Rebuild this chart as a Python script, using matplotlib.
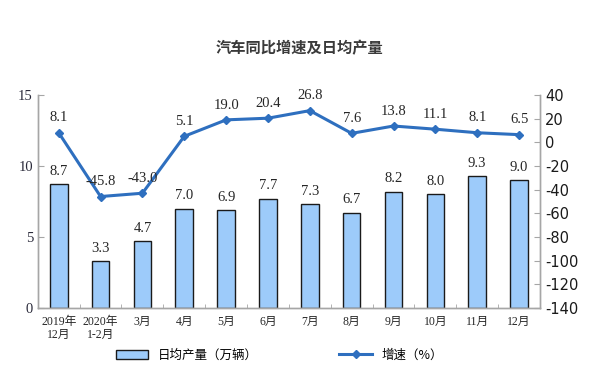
import matplotlib
matplotlib.use("Agg")
import matplotlib.pyplot as plt
import numpy as np

plt.rcParams["font.family"] = ["Liberation Serif", "Noto Sans CJK SC"]
plt.rcParams["axes.unicode_minus"] = False

MONTHS = ["2019年\n12月", "2020年\n1-2月", "3月", "4月", "5月", "6月",
          "7月", "8月", "9月", "10月", "11月", "12月"]
DAILY_OUTPUT = [8.7, 3.3, 4.7, 7.0, 6.9, 7.7, 7.3, 6.7, 8.2, 8.0, 9.3, 9.0]
GROWTH = [8.1, -45.8, -43.0, 5.1, 19.0, 20.4, 26.8, 7.6, 13.8, 11.1, 8.1, 6.5]

BAR_COLOR = "#9DCBFA"
LINE_COLOR = "#2E6FBF"
AXIS_COLOR = "#A6A6A6"
TEXT_COLOR = "#262626"

fig = plt.figure(figsize=(6, 3.77), dpi=100)
ax = fig.add_axes([0.063, 0.183, 0.837, 0.565])
ax2 = ax.twinx()

x = np.arange(len(MONTHS))
bars = ax.bar(x, DAILY_OUTPUT, width=0.42, color=BAR_COLOR,
              edgecolor="#1a1a1a", linewidth=1.0, label="日均产量（万辆）", zorder=2)
for xi, v in zip(x, DAILY_OUTPUT):
    ax.text(xi, v + 0.45, f"{v:.1f}", ha="center", va="bottom",
            fontsize=10.5, color=TEXT_COLOR)

ax.set_xlim(-0.5, len(MONTHS) - 0.5)
ax.set_ylim(0, 15)
ax.set_yticks([0, 5, 10, 15])
ax.set_xticks(x)
ax.set_xticklabels(MONTHS, fontsize=8.5, color=TEXT_COLOR, linespacing=1.1)
ax.set_xticks(np.arange(-0.5, len(MONTHS), 1), minor=True)
ax.tick_params(axis="x", which="major", length=0, pad=6)
ax.tick_params(axis="x", which="minor", direction="in", length=3, color=AXIS_COLOR)
ax.tick_params(axis="y", direction="in", length=4, color=AXIS_COLOR,
               labelsize=10.5, labelcolor="#2b2b3b")

ax2.plot(x, GROWTH, color=LINE_COLOR, linewidth=2.2, marker="D",
         markersize=4.5, label="增速（%）", zorder=3)
for xi, v in zip(x, GROWTH):
    ax2.text(xi, v + 7, f"{v:.1f}", ha="center", va="bottom",
             fontsize=10.5, color=TEXT_COLOR)
ax2.set_ylim(-140, 40)
ax2.set_yticks(np.arange(-140, 41, 20))
ax2.tick_params(axis="y", direction="in", length=4, color=AXIS_COLOR,
                labelsize=10.5, labelcolor="#1a1a1a")
for lab in ax2.get_yticklabels():
    lab.set_family(["DejaVu Sans"])

for a in (ax, ax2):
    a.spines["top"].set_visible(False)
    for s in ("left", "right", "bottom"):
        a.spines[s].set_color(AXIS_COLOR)
        a.spines[s].set_linewidth(1.0)

fig.text(0.5, 0.873, "汽车同比增速及日均产量", ha="center", va="center",
         fontsize=11, fontweight="bold", color="#3a3a3a",
         family=["Noto Sans CJK SC"])

h1, l1 = ax.get_legend_handles_labels()
h2, l2 = ax2.get_legend_handles_labels()
fig.legend(h1 + h2, l1 + l2, loc="center", bbox_to_anchor=(0.466, 0.058),
           ncol=2, frameon=False, columnspacing=6.5,
           handlelength=2.6, prop={"family": ["Noto Sans CJK SC"], "size": 9})

fig.savefig("out.png", dpi=100)
